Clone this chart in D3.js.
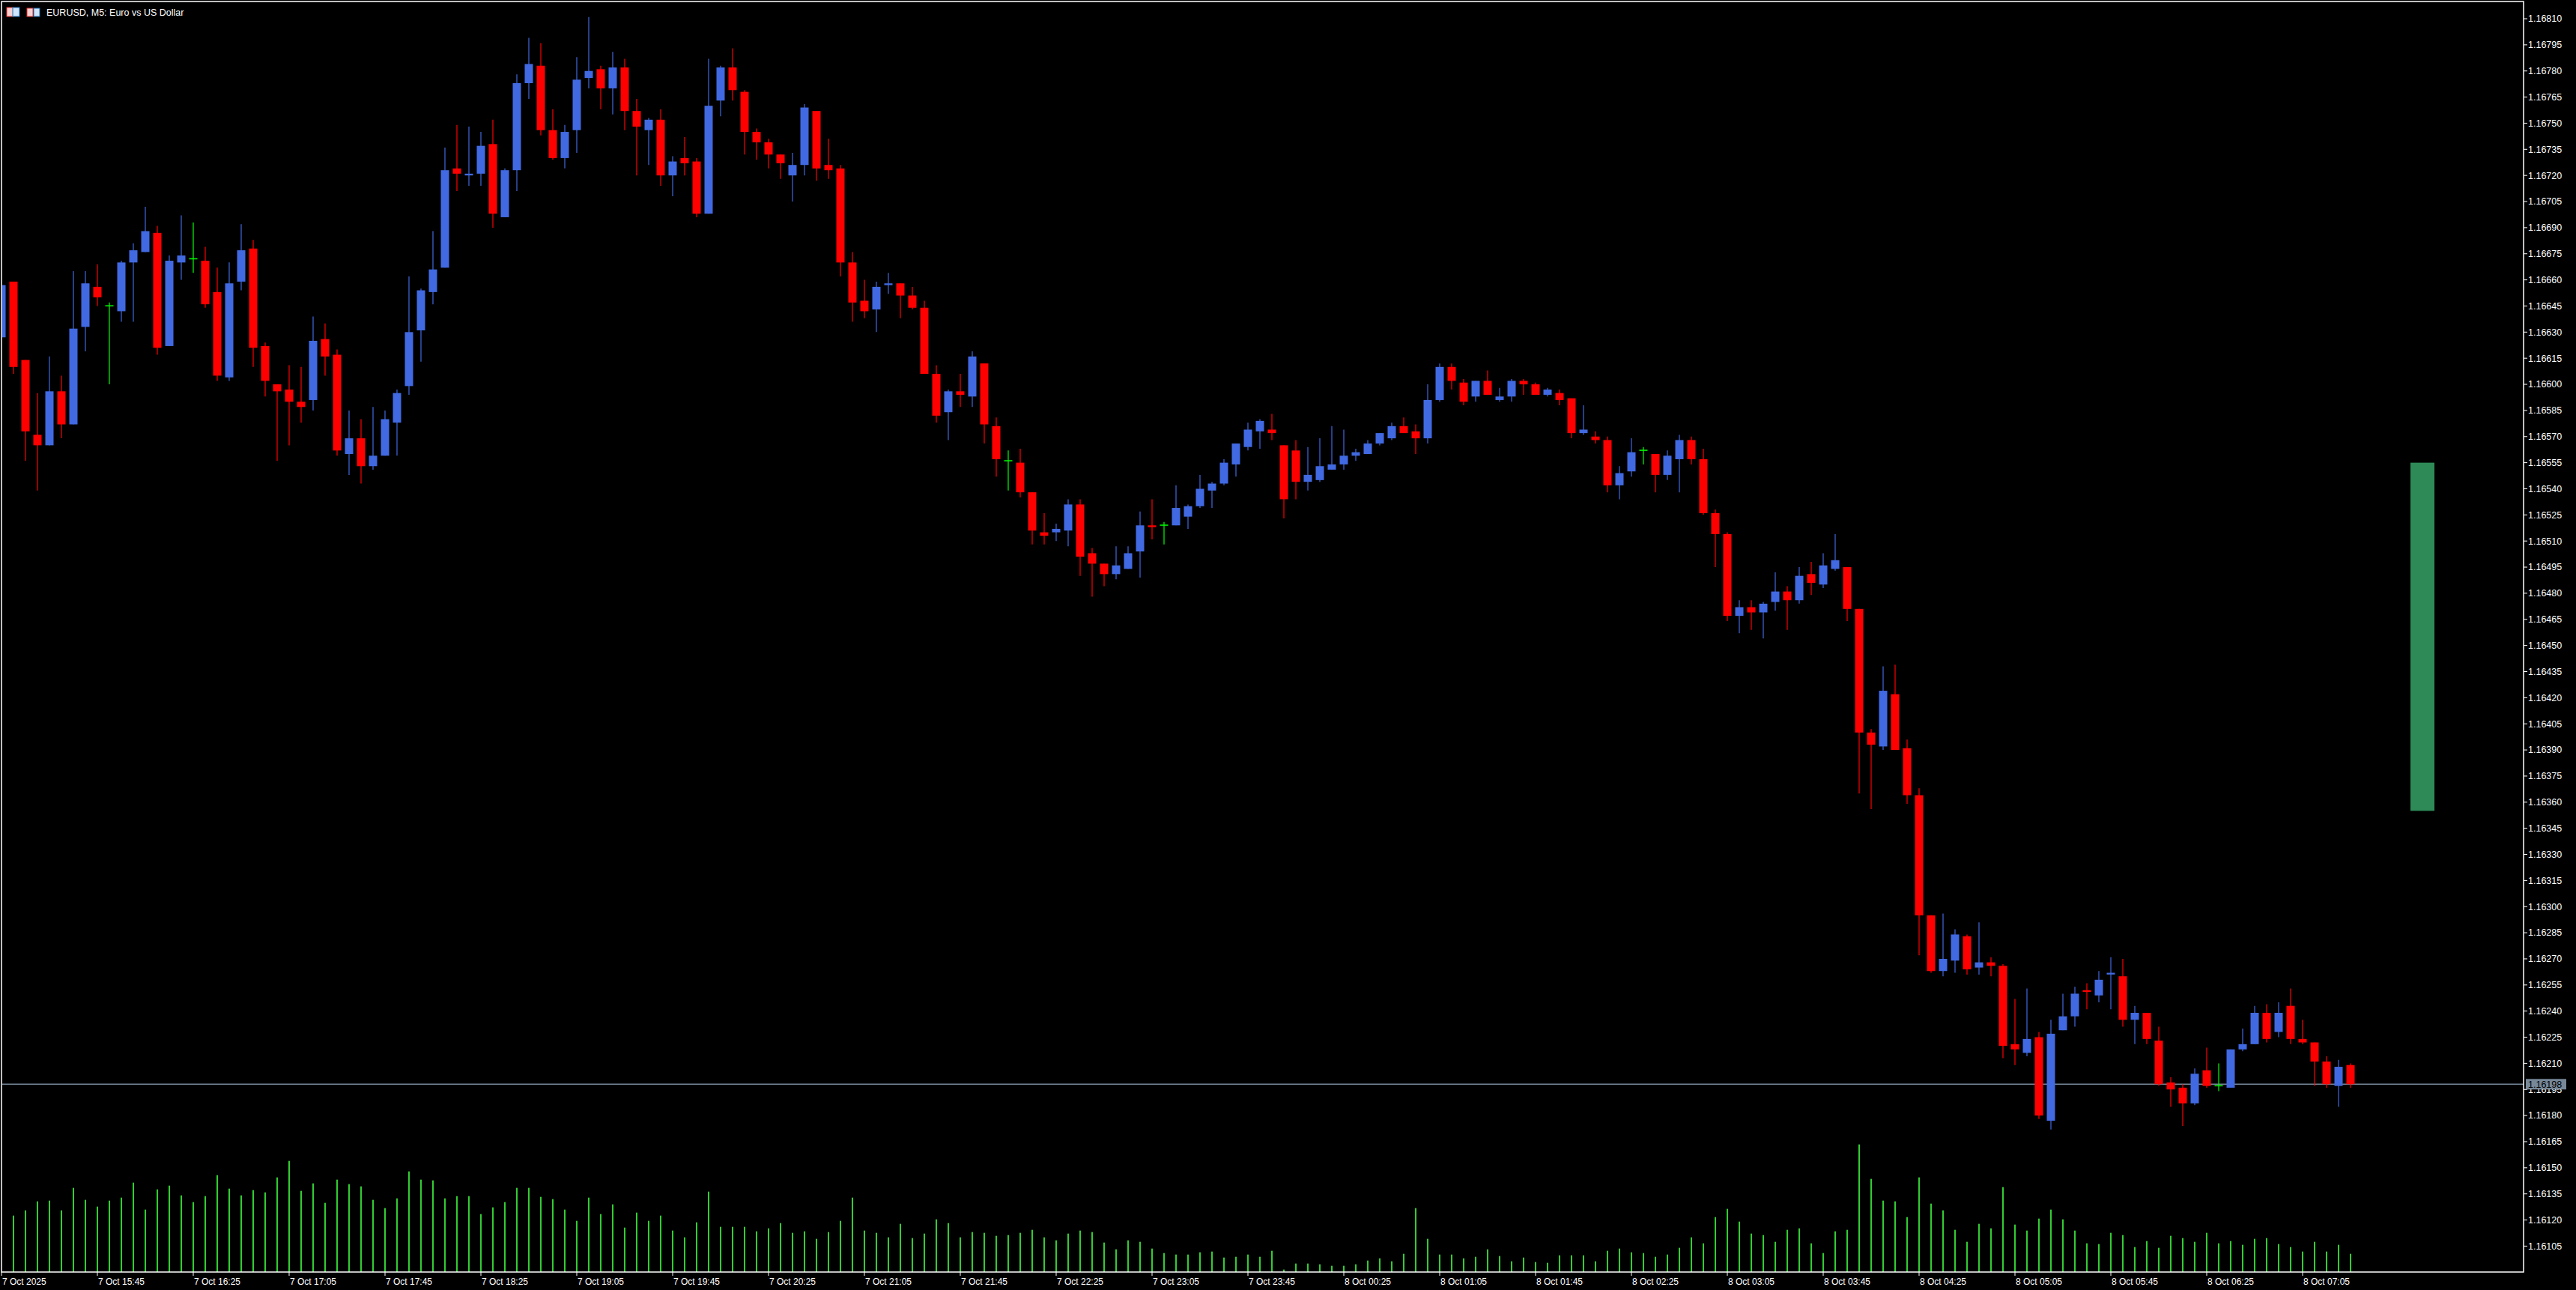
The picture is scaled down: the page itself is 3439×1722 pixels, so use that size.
<!DOCTYPE html>
<html><head><meta charset="utf-8">
<script src="https://cdn.jsdelivr.net/npm/d3@7"></script>
<style>html,body{margin:0;padding:0;background:#000;overflow:hidden}</style>
</head><body>
<script>
const opens=[1.16627,1.16659,1.16614,1.16571,1.16565,1.16596,1.16577,1.16633,1.16656,1.16645,1.16642,1.16670,1.16676,1.16687,1.16622,1.16670,1.16672,1.16671,1.16653,1.16604,1.16659,1.16678,1.16622,1.16600,1.16597,1.16590,1.16591,1.16626,1.16617,1.16560,1.16569,1.16553,1.16559,1.16578,1.16599,1.16631,1.16653,1.16667,1.16724,1.16720,1.16721,1.16738,1.16696,1.16723,1.16773,1.16783,1.16746,1.16730,1.16746,1.16776,1.16781,1.16770,1.16782,1.16757,1.16746,1.16752,1.16720,1.16730,1.16728,1.16698,1.16763,1.16782,1.16768,1.16745,1.16739,1.16732,1.16720,1.16726,1.16757,1.16726,1.16724,1.16670,1.16648,1.16643,1.16657,1.16658,1.16651,1.16644,1.16606,1.16584,1.16596,1.16593,1.16612,1.16576,1.16556,1.16555,1.16538,1.16515,1.16515,1.16516,1.16531,1.16503,1.16497,1.16491,1.16494,1.16504,1.16519,1.16519,1.16519,1.16524,1.16530,1.16539,1.16543,1.16554,1.16564,1.16573,1.16574,1.16565,1.16562,1.16544,1.16545,1.16551,1.16554,1.16559,1.16560,1.16566,1.16569,1.16576,1.16573,1.16569,1.16591,1.16610,1.16601,1.16593,1.16602,1.16591,1.16593,1.16602,1.16600,1.16594,1.16595,1.16592,1.16572,1.16570,1.16568,1.16542,1.16550,1.16562,1.16560,1.16548,1.16557,1.16568,1.16557,1.16526,1.16514,1.16467,1.16472,1.16469,1.16475,1.16481,1.16476,1.16491,1.16485,1.16494,1.16495,1.16471,1.16400,1.16392,1.16422,1.16391,1.16364,1.16295,1.16263,1.16269,1.16283,1.16265,1.16268,1.16266,1.16221,1.16216,1.16225,1.16177,1.16229,1.16237,1.16252,1.16249,1.16261,1.16260,1.16235,1.16239,1.16223,1.16199,1.16196,1.16187,1.16206,1.16197,1.16196,1.16218,1.16221,1.16239,1.16228,1.16243,1.16224,1.16222,1.16211,1.16197,1.16209];
const highs=[1.16660,1.16659,1.16614,1.16595,1.16616,1.16605,1.16665,1.16665,1.16669,1.16647,1.16671,1.16681,1.16702,1.16691,1.16674,1.16697,1.16693,1.16679,1.16667,1.16670,1.16692,1.16683,1.16624,1.16600,1.16611,1.16610,1.16639,1.16635,1.16620,1.16585,1.16580,1.16587,1.16585,1.16597,1.16662,1.16655,1.16688,1.16736,1.16749,1.16748,1.16745,1.16752,1.16724,1.16778,1.16799,1.16796,1.16758,1.16749,1.16788,1.16811,1.16783,1.16791,1.16787,1.16764,1.16753,1.16758,1.16731,1.16742,1.16730,1.16787,1.16783,1.16793,1.16769,1.16747,1.16741,1.16732,1.16733,1.16761,1.16757,1.16741,1.16726,1.16676,1.16660,1.16659,1.16664,1.16658,1.16656,1.16648,1.16611,1.16597,1.16606,1.16619,1.16612,1.16581,1.16562,1.16563,1.16538,1.16526,1.16520,1.16534,1.16534,1.16506,1.16497,1.16507,1.16507,1.16527,1.16534,1.16521,1.16542,1.16531,1.16548,1.16544,1.16557,1.16566,1.16578,1.16580,1.16583,1.16565,1.16568,1.16564,1.16569,1.16576,1.16574,1.16563,1.16568,1.16572,1.16578,1.16581,1.16577,1.16600,1.16612,1.16612,1.16603,1.16602,1.16608,1.16598,1.16603,1.16603,1.16601,1.16598,1.16597,1.16592,1.16588,1.16573,1.16570,1.16553,1.16569,1.16564,1.16560,1.16562,1.16571,1.16570,1.16563,1.16528,1.16515,1.16476,1.16476,1.16475,1.16492,1.16484,1.16495,1.16498,1.16503,1.16514,1.16495,1.16471,1.16402,1.16438,1.16439,1.16396,1.16368,1.16295,1.16296,1.16287,1.16284,1.16291,1.16271,1.16267,1.16247,1.16253,1.16228,1.16235,1.16250,1.16254,1.16256,1.16263,1.16271,1.16270,1.16243,1.16239,1.16231,1.16202,1.16198,1.16207,1.16219,1.16210,1.16218,1.16230,1.16243,1.16244,1.16245,1.16253,1.16235,1.16222,1.16214,1.16212,1.16210];
const lows=[1.16609,1.16606,1.16556,1.16539,1.16565,1.16569,1.16577,1.16619,1.16645,1.16600,1.16636,1.16636,1.16676,1.16617,1.16622,1.16660,1.16664,1.16644,1.16602,1.16602,1.16654,1.16610,1.16593,1.16556,1.16565,1.16578,1.16585,1.16605,1.16559,1.16548,1.16543,1.16551,1.16559,1.16559,1.16594,1.16613,1.16646,1.16667,1.16711,1.16714,1.16714,1.16690,1.16696,1.16711,1.16764,1.16743,1.16729,1.16724,1.16733,1.16770,1.16758,1.16755,1.16746,1.16720,1.16726,1.16714,1.16708,1.16720,1.16696,1.16698,1.16754,1.16763,1.16732,1.16729,1.16724,1.16718,1.16705,1.16720,1.16717,1.16718,1.16662,1.16636,1.16638,1.16630,1.16652,1.16638,1.16643,1.16606,1.16578,1.16568,1.16587,1.16587,1.16566,1.16547,1.16539,1.16535,1.16508,1.16508,1.16510,1.16507,1.16490,1.16478,1.16484,1.16488,1.16494,1.16489,1.16511,1.16508,1.16519,1.16517,1.16529,1.16529,1.16542,1.16547,1.16562,1.16563,1.16568,1.16523,1.16534,1.16539,1.16544,1.16551,1.16551,1.16556,1.16560,1.16565,1.16568,1.16572,1.16560,1.16566,1.16590,1.16597,1.16588,1.16590,1.16594,1.16590,1.16590,1.16594,1.16594,1.16593,1.16588,1.16569,1.16571,1.16566,1.16538,1.16534,1.16547,1.16554,1.16538,1.16545,1.16538,1.16554,1.16525,1.16495,1.16464,1.16457,1.16459,1.16454,1.16470,1.16459,1.16474,1.16479,1.16483,1.16493,1.16464,1.16365,1.16356,1.16390,1.16390,1.16359,1.16272,1.16262,1.16260,1.16262,1.16261,1.16261,1.16260,1.16213,1.16209,1.16214,1.16178,1.16172,1.16229,1.16231,1.16241,1.16245,1.16241,1.16231,1.16221,1.16221,1.16197,1.16185,1.16174,1.16186,1.16196,1.16194,1.16196,1.16217,1.16221,1.16222,1.16225,1.16221,1.16221,1.16197,1.16196,1.16185,1.16196];
const closes=[1.16657,1.16610,1.16573,1.16565,1.16596,1.16577,1.16632,1.16658,1.16650,1.16645,1.16670,1.16677,1.16688,1.16621,1.16671,1.16674,1.16672,1.16646,1.16605,1.16658,1.16677,1.16621,1.16602,1.16596,1.16590,1.16587,1.16625,1.16616,1.16562,1.16569,1.16553,1.16559,1.16580,1.16595,1.16630,1.16654,1.16666,1.16723,1.16721,1.16721,1.16737,1.16698,1.16723,1.16773,1.16784,1.16746,1.16730,1.16745,1.16775,1.16780,1.16770,1.16782,1.16757,1.16748,1.16752,1.16720,1.16728,1.16727,1.16698,1.16760,1.16782,1.16769,1.16745,1.16739,1.16732,1.16727,1.16726,1.16759,1.16724,1.16723,1.16670,1.16647,1.16642,1.16656,1.16658,1.16651,1.16644,1.16606,1.16582,1.16596,1.16594,1.16616,1.16577,1.16557,1.16556,1.16538,1.16516,1.16513,1.16517,1.16531,1.16501,1.16497,1.16491,1.16496,1.16503,1.16519,1.16518,1.16519,1.16529,1.16530,1.16540,1.16543,1.16555,1.16566,1.16574,1.16579,1.16572,1.16534,1.16544,1.16548,1.16553,1.16554,1.16559,1.16561,1.16566,1.16572,1.16576,1.16572,1.16569,1.16591,1.16610,1.16602,1.16590,1.16602,1.16594,1.16593,1.16602,1.16600,1.16594,1.16597,1.16591,1.16572,1.16574,1.16568,1.16542,1.16549,1.16561,1.16562,1.16548,1.16559,1.16568,1.16557,1.16526,1.16514,1.16467,1.16472,1.16469,1.16474,1.16481,1.16476,1.16490,1.16486,1.16496,1.16499,1.16471,1.16400,1.16393,1.16424,1.16390,1.16364,1.16295,1.16263,1.16270,1.16284,1.16264,1.16268,1.16266,1.16220,1.16218,1.16224,1.16180,1.16227,1.16237,1.16250,1.16251,1.16258,1.16262,1.16235,1.16239,1.16224,1.16198,1.16195,1.16187,1.16204,1.16197,1.16197,1.16218,1.16221,1.16239,1.16224,1.16239,1.16224,1.16222,1.16211,1.16198,1.16208,1.16198];
const volumes=[220,226,247,283,286,247,337,289,262,286,298,358,250,331,346,307,280,304,388,334,307,328,319,379,445,325,355,277,370,352,343,289,256,295,403,370,367,295,304,304,232,259,280,337,337,301,292,250,205,298,232,271,178,238,205,226,166,139,199,322,181,181,181,163,175,196,157,163,133,160,205,298,166,157,139,193,136,154,211,196,139,160,157,145,148,157,169,139,127,154,166,160,118,91,127,121,94,76,70,70,79,82,58,61,70,61,85,10,34,34,31,25,25,31,46,55,43,73,256,133,70,70,55,61,91,64,43,58,40,37,67,67,67,43,85,94,79,76,61,70,97,139,115,220,253,202,154,148,121,169,175,115,76,163,169,511,373,286,283,220,379,274,247,169,121,193,175,340,190,166,214,250,211,166,115,112,157,148,100,124,97,145,136,121,157,115,124,109,133,136,112,100,82,121,82,109,73];
const timeLabels=["7 Oct 2025","7 Oct 15:45","7 Oct 16:25","7 Oct 17:05","7 Oct 17:45","7 Oct 18:25","7 Oct 19:05","7 Oct 19:45","7 Oct 20:25","7 Oct 21:05","7 Oct 21:45","7 Oct 22:25","7 Oct 23:05","7 Oct 23:45","8 Oct 00:25","8 Oct 01:05","8 Oct 01:45","8 Oct 02:25","8 Oct 03:05","8 Oct 03:45","8 Oct 04:25","8 Oct 05:05","8 Oct 05:45","8 Oct 06:25","8 Oct 07:05"];
const priceTicks=d3.range(0,48).map(k=>+(1.16105+k*0.00015).toFixed(5));
const currentPrice=1.16198;
const zoneTop=1.16555, zoneBottom=1.16355;
const title="EURUSD, M5:  Euro vs US Dollar";

const W=3439,H=1722, L=2, R=3369, T=2, B=1698;
const svg=d3.select("body").append("svg").attr("width",W).attr("height",H).style("background","#000");
const x=d3.scaleLinear().domain([0,196]).range([2,3138]);
const y=d3.scaleLinear().domain([1.16810,1.16105]).range([25,25+47*34.86]);
const yv=d3.scaleLinear().domain([0,565]).range([B,B-565/3]);
const font="'Liberation Sans', Arial, sans-serif";

const clip=svg.append("clipPath").attr("id","c").append("rect").attr("x",L+1).attr("y",T+1).attr("width",R-L-1).attr("height",B-T-1);
const g=svg.append("g").attr("clip-path","url(#c)");

// volumes
g.selectAll("rect.v").data(volumes).join("rect").attr("x",(d,i)=>x(i)-1).attr("width",2)
 .attr("y",d=>yv(d)).attr("height",d=>B-yv(d)).attr("fill","#32CD32");

// current price line
g.append("line").attr("x1",L).attr("x2",R).attr("y1",y(currentPrice)).attr("y2",y(currentPrice)).attr("stroke","#778899").attr("stroke-width",1.5);

const data=opens.map((o,i)=>({i,o,h:highs[i],l:lows[i],c:closes[i]}));
const col=d=>d.c>d.o?"#4169E1":(d.c<d.o?"#FF0000":"#00FF00");
g.selectAll("line.w").data(data).join("line").attr("x1",d=>x(d.i)).attr("x2",d=>x(d.i))
 .attr("y1",d=>y(d.h)).attr("y2",d=>y(d.l)).attr("stroke",col).attr("stroke-width",1.2);
g.selectAll("rect.b").data(data).join("rect").attr("x",d=>x(d.i)-5.5).attr("width",11)
 .attr("y",d=>d.c===d.o?y(d.o)-1:y(Math.max(d.o,d.c)))
 .attr("height",d=>d.c===d.o?1.5:Math.max(1.5,y(Math.min(d.o,d.c))-y(Math.max(d.o,d.c))))
 .attr("fill",col);

// zone rectangle
g.append("rect").attr("x",3218).attr("width",32).attr("y",y(zoneTop)).attr("height",y(zoneBottom)-y(zoneTop)).attr("fill","#2E8B57");

// frame
svg.append("rect").attr("x",L).attr("y",T).attr("width",R-L).attr("height",B-T).attr("fill","none").attr("stroke","#fff").attr("stroke-width",1.5);

// price axis
const pa=svg.append("g");
priceTicks.forEach(p=>{
  pa.append("line").attr("x1",R).attr("x2",R+5).attr("y1",y(p)).attr("y2",y(p)).attr("stroke","#fff");
  pa.append("text").attr("x",R+6).attr("y",y(p)).attr("dy","0.35em").attr("fill","#fff").attr("font-family",font).attr("font-size",12.5).text(p.toFixed(5));
});
pa.append("rect").attr("x",R+3).attr("y",y(currentPrice)-7).attr("width",54).attr("height",14).attr("fill","#778899");
pa.append("text").attr("x",R+6).attr("y",y(currentPrice)).attr("dy","0.35em").attr("fill","#000").attr("font-family",font).attr("font-size",12.5).text(currentPrice.toFixed(5));

// time axis
timeLabels.forEach((t,k)=>{
  const xx=x(k*8);
  svg.append("line").attr("x1",xx).attr("x2",xx).attr("y1",B).attr("y2",B+5).attr("stroke","#fff");
  svg.append("text").attr("x",xx+1).attr("y",B+17).attr("fill","#fff").attr("font-family",font).attr("font-size",12).text(t);
});

// title and icons
const ic=svg.append("g");
ic.append("rect").attr("x",9).attr("y",10).attr("width",9).attr("height",12).attr("fill","#fbd0d0").attr("stroke","#d33");
ic.append("rect").attr("x",17).attr("y",10).attr("width",9).attr("height",12).attr("fill","#d0e4fb").attr("stroke","#1a6fb0");
ic.append("rect").attr("x",36).attr("y",11).attr("width",8).attr("height",11).attr("fill","#fbd0d0").attr("stroke","#d33");
ic.append("rect").attr("x",45).attr("y",11).attr("width",8).attr("height",11).attr("fill","#d0e4fb").attr("stroke","#1a6fb0");
svg.append("text").attr("x",62).attr("y",21).attr("fill","#fff").attr("font-family",font).attr("font-size",12.5).text(title);
</script>
</body></html>
